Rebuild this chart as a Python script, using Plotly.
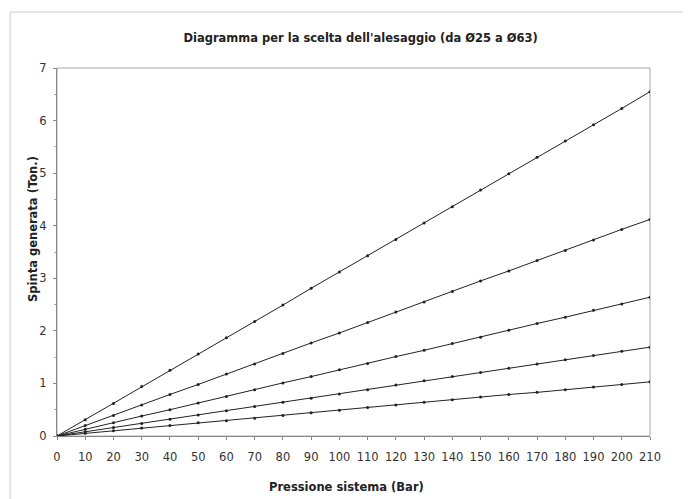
import plotly.graph_objects as go

pressione = [0, 10, 20, 30, 40, 50, 60, 70, 80, 90, 100, 110, 120, 130, 140, 150, 160, 170, 180, 190, 200, 210]

d25 = [0, 0.05, 0.10, 0.15, 0.20, 0.25, 0.29, 0.34, 0.39, 0.44, 0.49, 0.54, 0.59, 0.64, 0.69, 0.74, 0.79, 0.83, 0.88, 0.93, 0.98, 1.03]
d32 = [0, 0.08, 0.16, 0.24, 0.32, 0.40, 0.48, 0.56, 0.64, 0.72, 0.80, 0.88, 0.97, 1.05, 1.13, 1.21, 1.29, 1.37, 1.45, 1.53, 1.61, 1.69]
d40 = [0, 0.13, 0.25, 0.38, 0.50, 0.63, 0.75, 0.88, 1.01, 1.13, 1.26, 1.38, 1.51, 1.63, 1.76, 1.88, 2.01, 2.14, 2.26, 2.39, 2.51, 2.64]
d50 = [0, 0.20, 0.39, 0.59, 0.79, 0.98, 1.18, 1.37, 1.57, 1.77, 1.96, 2.16, 2.36, 2.55, 2.75, 2.95, 3.14, 3.34, 3.53, 3.73, 3.93, 4.12]
d63 = [0, 0.31, 0.62, 0.94, 1.25, 1.56, 1.87, 2.18, 2.49, 2.81, 3.12, 3.43, 3.74, 4.05, 4.36, 4.68, 4.99, 5.30, 5.61, 5.92, 6.23, 6.55]

series = [("Ø25", d25), ("Ø32", d32), ("Ø40", d40), ("Ø50", d50), ("Ø63", d63)]

title_text = "Diagramma per la scelta dell'alesaggio (da Ø25 a Ø63)"
x_title = "Pressione sistema (Bar)"
y_title = "Spinta generata (Ton.)"

fig = go.Figure()
for name, vals in series:
    fig.add_trace(go.Scatter(
        x=pressione, y=vals, name=name, mode="lines+markers",
        line=dict(color="#222222", width=1),
        marker=dict(color="#222222", size=3),
        showlegend=False,
    ))

font_family = "DejaVu Sans, sans-serif"

fig.update_layout(
    width=691, height=499,
    margin=dict(l=49, r=49, t=60, b=71),
    paper_bgcolor="white", plot_bgcolor="white",
    font=dict(family=font_family, size=11, color="#333333"),
    title=dict(
        text="<b>" + title_text + "</b>",
        x=0.512, xref="paper", y=0.94, yref="container", xanchor="center", yanchor="middle",
        font=dict(size=11.5, color="#222222", family=font_family),
    ),
    xaxis=dict(
        range=[0, 210], tickmode="array", tickvals=pressione,
        ticks="outside", ticklen=3, tickcolor="#888888",
        ticklabelstandoff=7,
        showline=True, linecolor="#888888", linewidth=1, mirror=False,
        showgrid=False, zeroline=False,
        tickfont=dict(size=11.5, color="#333333"),
    ),
    yaxis=dict(
        range=[0, 7], dtick=1,
        ticks="outside", ticklen=3, tickcolor="#888888",
        ticklabelstandoff=4,
        minor=dict(dtick=0.5, ticks="outside", ticklen=2, tickcolor="#aaaaaa"),
        showline=True, linecolor="#888888", linewidth=1,
        showgrid=False, zeroline=False,
        tickfont=dict(size=11.5, color="#333333"),
    ),
)

# axis titles as annotations (placed as in the reference)
fig.add_annotation(text="<b>" + x_title + "</b>", xref="paper", yref="paper",
                   x=0.488, y=-0.1386, xanchor="center", yanchor="middle",
                   showarrow=False, font=dict(size=11.5, color="#222222", family=font_family))
fig.add_annotation(text="<b>" + y_title + "</b>", xref="paper", yref="paper",
                   x=-0.0405, y=0.5625, xanchor="center", yanchor="middle", textangle=-90,
                   showarrow=False, font=dict(size=11.5, color="#222222", family=font_family))

# plot-area border (top and right)
fig.add_shape(type="rect", xref="paper", yref="paper", x0=0, y0=0, x1=1, y1=1,
              line=dict(color="#aaaaaa", width=1), layer="below")
# outer chart border
fig.add_shape(type="rect", xref="paper", yref="paper", x0=-0.079, y0=-0.2, x1=1.07, y1=1.152,
              line=dict(color="#cccccc", width=1), layer="below")

fig.write_html("out.html")
